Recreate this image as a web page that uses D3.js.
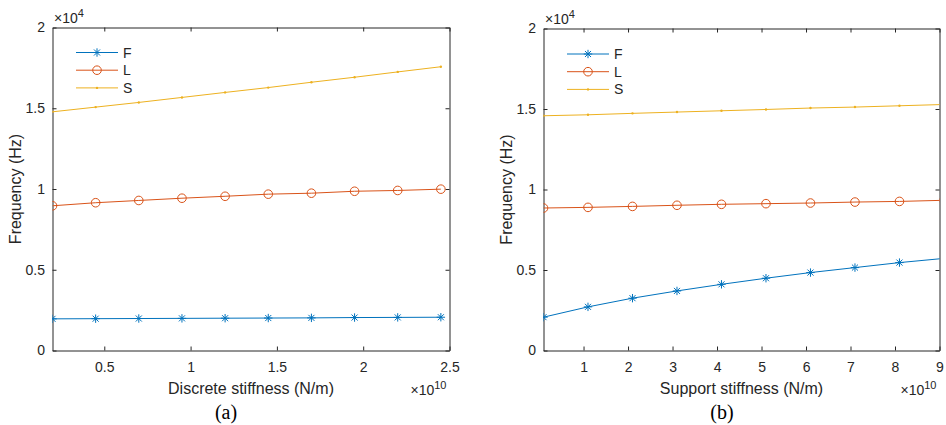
<!DOCTYPE html>
<html lang="en">
<head>
  <meta charset="UTF-8">
  <title>Frequency vs stiffness</title>
  <script src="https://d3js.org/d3.v7.min.js"></script>
  <style>
    html, body { margin: 0; background: #fff; }
    svg { display: block; }
    text { font-family: "Liberation Sans", Arial, sans-serif; fill: #262626; }
    .caption { font-family: "Liberation Serif", "Times New Roman", serif; fill: #000; }
  </style>
</head>
<body>
  <svg width="946" height="425"></svg>
  <script>
    // panel (a): discrete stiffness, x in 1e10 N/m, y in Hz
    const xA = [0.2, 0.45, 0.7, 0.95, 1.2, 1.45, 1.7, 1.95, 2.2, 2.45];
    const fA = [1960, 1970, 1980, 1990, 2000, 2010, 2020, 2040, 2050, 2060];
    const lA = [8960, 9150, 9290, 9430, 9550, 9680, 9740, 9860, 9910, 9990];
    const sA = [14780, 15070, 15360, 15670, 15980, 16280, 16610, 16920, 17250, 17570];
    const ticksXA = [0.5, 1, 1.5, 2, 2.5];

    // panel (b): support stiffness
    const xB = [0.1, 1.1, 2.1, 3.1, 4.1, 5.1, 6.1, 7.1, 8.1, 9.1];
    const fB = [2070, 2710, 3250, 3700, 4110, 4490, 4840, 5150, 5460, 5720];
    const lB = [8850, 8890, 8950, 9020, 9080, 9120, 9160, 9220, 9260, 9330];
    const sB = [14580, 14640, 14730, 14810, 14890, 14970, 15060, 15120, 15200, 15280];
    const ticksXB = [1, 2, 3, 4, 5, 6, 7, 8, 9];

    const ticksY = [0, 0.5, 1, 1.5, 2];
    const seriesNames = ["F", "L", "S"];
    const colors = ["#0072BD", "#D95319", "#EDB120"];

    const svg = d3.select("svg");

    function drawMarker(g, type, x, y, color) {
      if (type === "F") {
        const r = 4.2;
        const p = g.append("g").attr("transform", `translate(${x},${y})`)
          .attr("stroke", color).attr("stroke-width", 1);
        p.append("line").attr("x1", -r).attr("x2", r).attr("y1", 0).attr("y2", 0);
        p.append("line").attr("x1", 0).attr("x2", 0).attr("y1", -r).attr("y2", r);
        const d = r * 0.72;
        p.append("line").attr("x1", -d).attr("x2", d).attr("y1", -d).attr("y2", d);
        p.append("line").attr("x1", -d).attr("x2", d).attr("y1", d).attr("y2", -d);
      } else if (type === "L") {
        g.append("circle").attr("cx", x).attr("cy", y).attr("r", 4.3)
          .attr("fill", "none").attr("stroke", color).attr("stroke-width", 1);
      } else {
        g.append("circle").attr("cx", x).attr("cy", y).attr("r", 1.2)
          .attr("fill", color);
      }
    }

    function panel(opt) {
      const { left, right, top, bottom, xDomain, xTicks, xs, ys, xLabel, caption, legend, id } = opt;
      const x = d3.scaleLinear().domain(xDomain).range([left, right]);
      const y = d3.scaleLinear().domain([0, 2]).range([bottom, top]);
      const g = svg.append("g");

      g.append("clipPath").attr("id", id).append("rect")
        .attr("x", left).attr("y", top).attr("width", right - left).attr("height", bottom - top);

      // axes with inward ticks
      const axB = d3.axisBottom(x).tickValues(xTicks).tickSizeInner(-4).tickSizeOuter(0).tickPadding(11.5)
        .tickFormat(d3.format("~g"));
      const axT = d3.axisTop(x).tickValues(xTicks).tickSizeInner(-4).tickSizeOuter(0).tickFormat("");
      const axL = d3.axisLeft(y).tickValues(ticksY).tickSizeInner(-4).tickSizeOuter(0).tickPadding(7.5)
        .tickFormat(d3.format("~g"));
      const axR = d3.axisRight(y).tickValues(ticksY).tickSizeInner(-4).tickSizeOuter(0).tickFormat("");

      [[axB, `translate(0,${bottom})`], [axT, `translate(0,${top})`],
       [axL, `translate(${left},0)`], [axR, `translate(${right},0)`]].forEach(([ax, tr]) => {
        const a = g.append("g").attr("transform", tr).call(ax);
        a.select(".domain").attr("stroke", "#262626");
        a.selectAll(".tick line").attr("stroke", "#262626");
        a.selectAll("text").attr("font-size", 14).attr("fill", "#262626")
          .attr("font-family", "Liberation Sans, Arial, sans-serif");
      });

      // series
      const plot = g.append("g").attr("clip-path", `url(#${id})`);
      const line = d3.line().x(d => x(d[0])).y(d => y(d[1] / 1e4));
      ys.forEach((vals, i) => {
        const pts = xs.map((v, j) => [v, vals[j]]);
        plot.append("path").attr("d", line(pts)).attr("fill", "none")
          .attr("stroke", colors[i]).attr("stroke-width", 1);
        pts.forEach(p => drawMarker(plot, seriesNames[i], x(p[0]), y(p[1] / 1e4), colors[i]));
      });

      // legend
      seriesNames.forEach((name, i) => {
        const ly = legend.y + i * legend.dy;
        g.append("line").attr("x1", legend.x).attr("x2", legend.x + 42)
          .attr("y1", ly).attr("y2", ly).attr("stroke", colors[i]).attr("stroke-width", 1);
        drawMarker(g, name, legend.x + 21, ly, colors[i]);
        g.append("text").attr("x", legend.x + 47).attr("y", ly + 5)
          .attr("font-size", 14).text(name);
      });

      // exponent labels
      const e4 = g.append("text").attr("x", left + 1.5).attr("y", top - 4.5).attr("font-size", 14);
      e4.append("tspan").text("\u00d710");
      e4.append("tspan").attr("dy", -6).attr("font-size", 11).text("4");

      const e10 = g.append("text").attr("x", right - 39).attr("y", bottom + 44.5).attr("font-size", 14);
      e10.append("tspan").text("\u00d710");
      e10.append("tspan").attr("dy", -6).attr("font-size", 11).text("10");

      // axis labels
      g.append("text").attr("x", (left + right) / 2).attr("y", bottom + 43)
        .attr("text-anchor", "middle").attr("font-size", 16).text(xLabel);
      g.append("text")
        .attr("transform", `translate(${left - 32},${(top + bottom) / 2}) rotate(-90)`)
        .attr("text-anchor", "middle").attr("font-size", 16).text("Frequency (Hz)");

      g.append("text").attr("class", "caption").attr("x", caption.x).attr("y", caption.y)
        .attr("text-anchor", "middle").attr("font-size", 20).text(caption.text);
    }

    panel({
      id: "clipA", left: 52.5, right: 449.5, top: 27.5, bottom: 350.5,
      xDomain: [0.2, 2.5], xTicks: ticksXA, xs: xA, ys: [fA, lA, sA],
      xLabel: "Discrete stiffness (N/m)",
      caption: { x: 226, y: 419, text: "(a)" },
      legend: { x: 76, y: 52.5, dy: 17.7 }
    });

    panel({
      id: "clipB", left: 543.5, right: 939.5, top: 28.5, bottom: 350.5,
      xDomain: [0.1, 9], xTicks: ticksXB, xs: xB, ys: [fB, lB, sB],
      xLabel: "Support stiffness (N/m)",
      caption: { x: 722, y: 419, text: "(b)" },
      legend: { x: 567, y: 54, dy: 17.7 }
    });
  </script>
</body>
</html>
